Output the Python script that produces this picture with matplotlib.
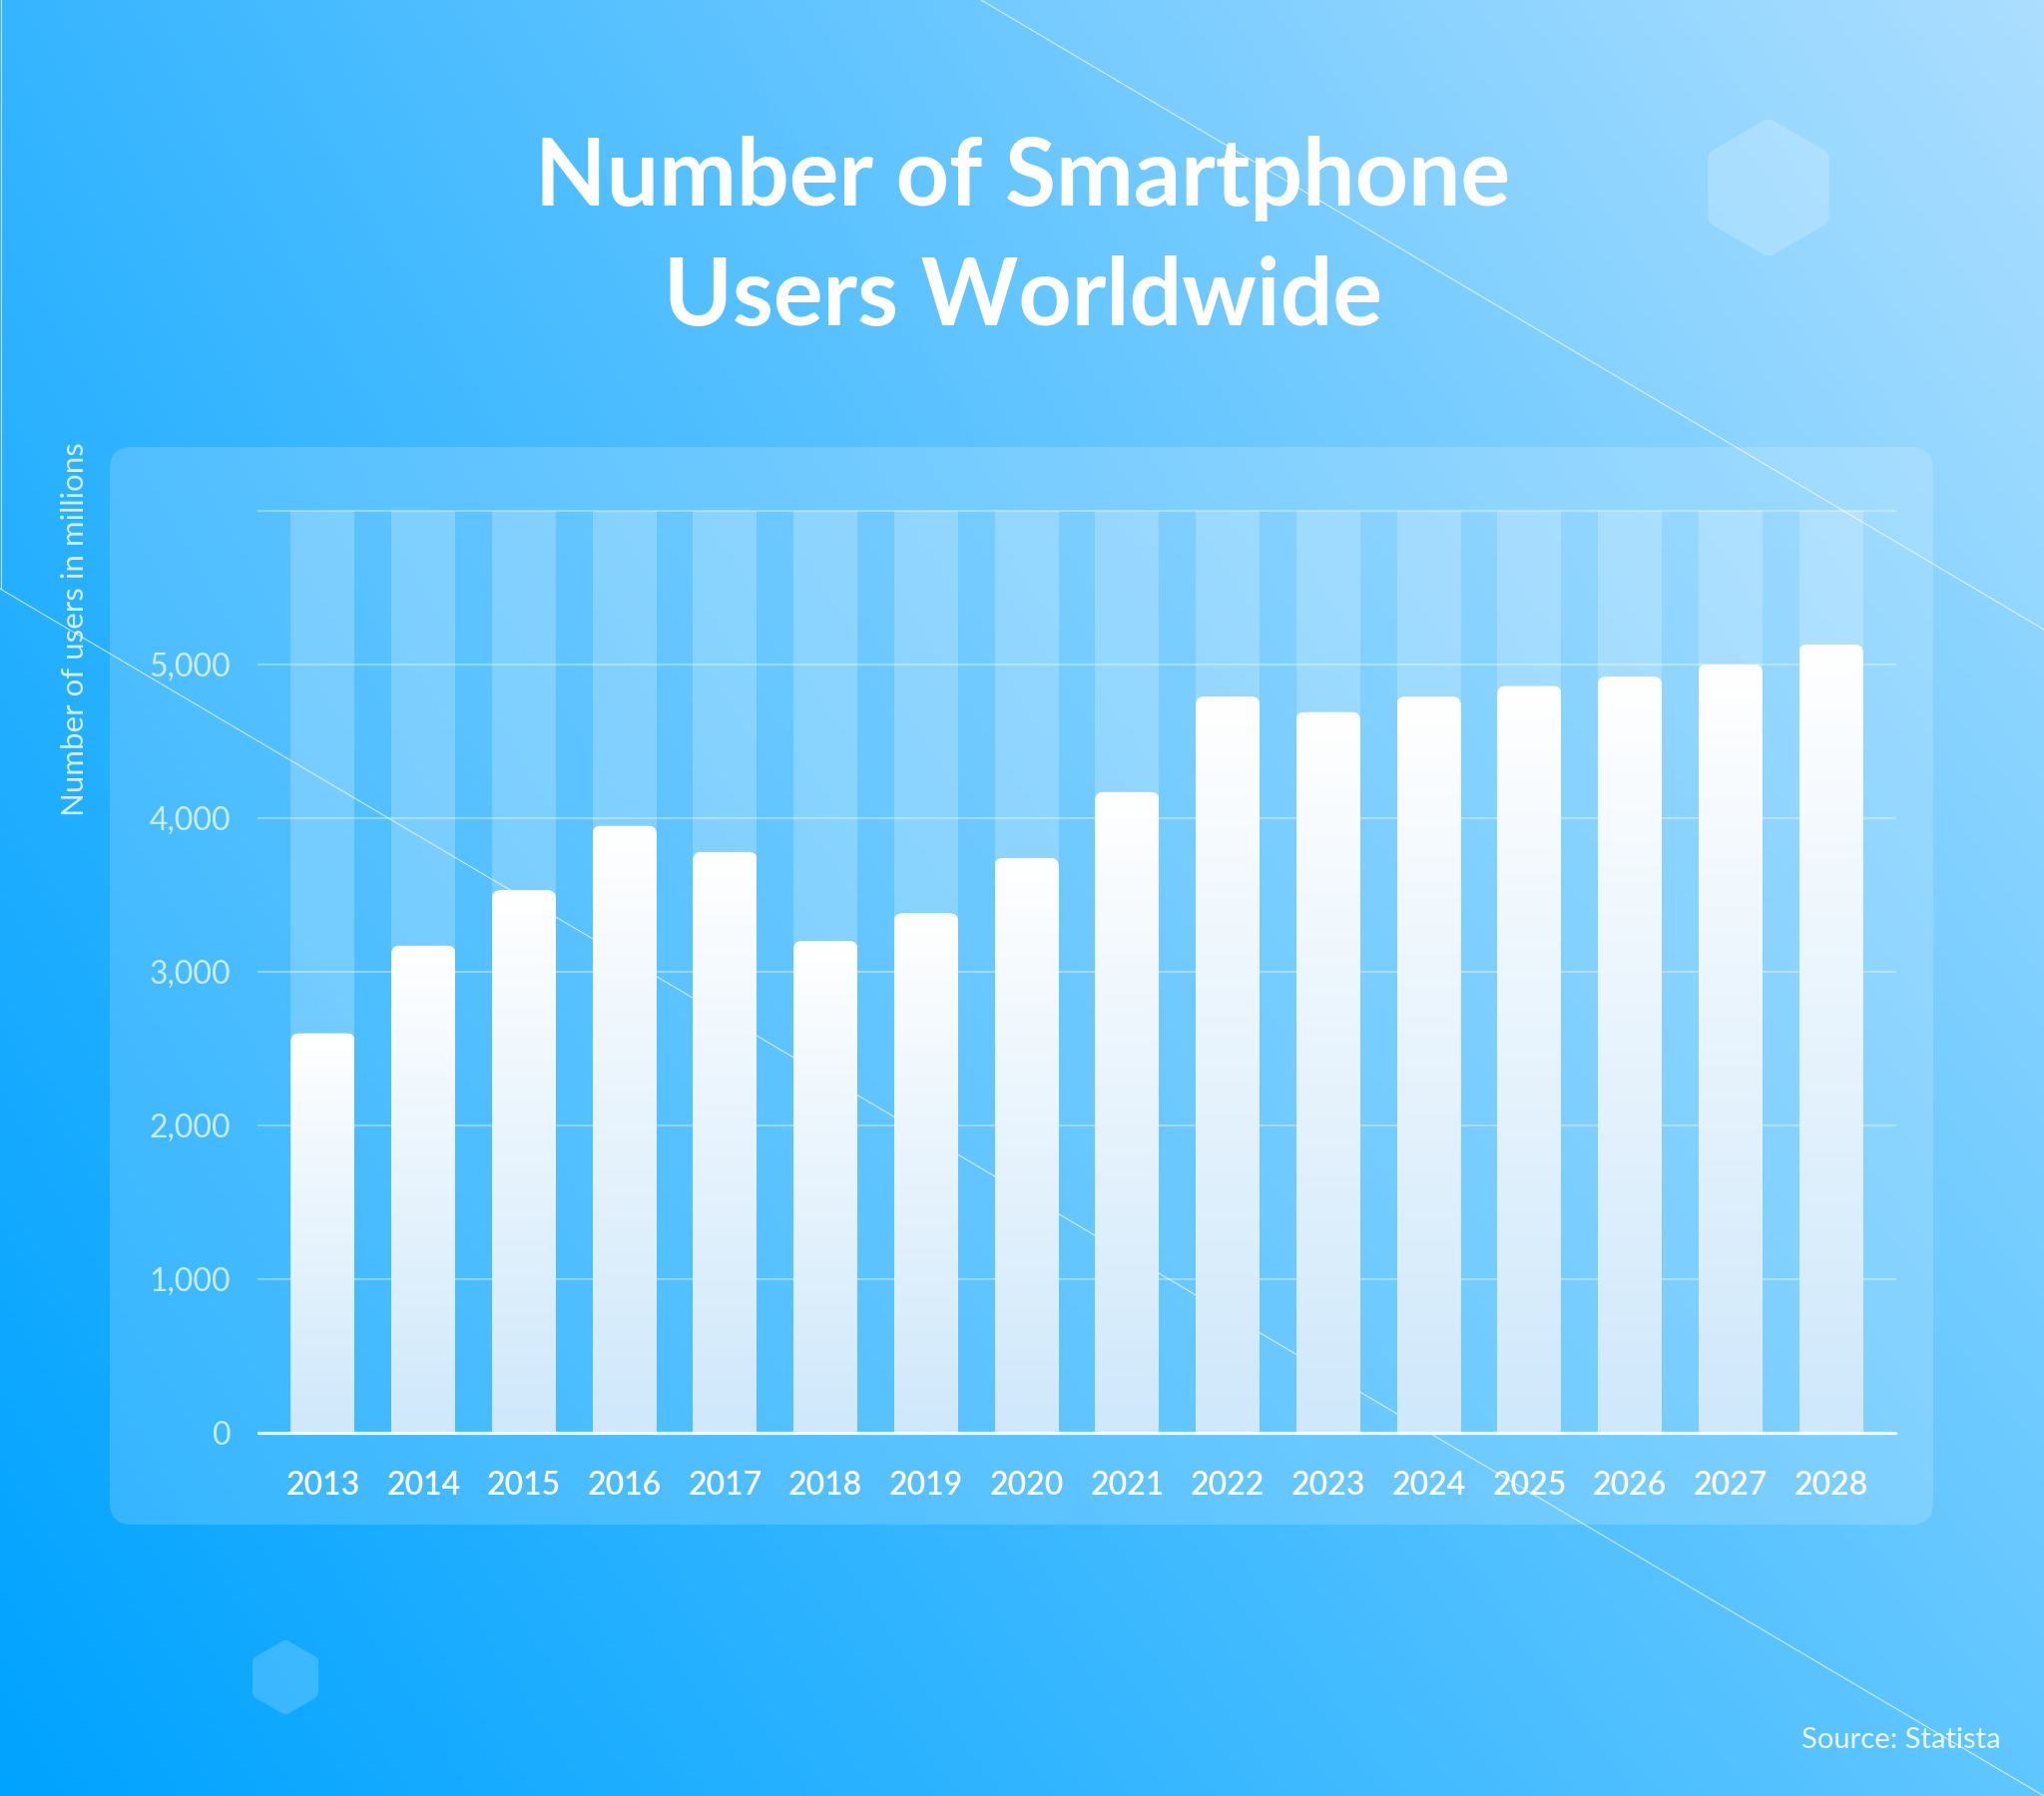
import numpy as np
import matplotlib.pyplot as plt
from matplotlib.patches import FancyBboxPatch, Polygon
from matplotlib.colors import to_rgb

# Veriler
years = ["2013", "2014", "2015", "2016", "2017", "2018", "2019", "2020",
         "2021", "2022", "2023", "2024", "2025", "2026", "2027", "2028"]
users = [2600, 3170, 3530, 3950, 3780, 3200, 3380, 3740,
         4170, 4790, 4690, 4790, 4860, 4920, 5000, 5130]
y_ticks = [0, 1000, 2000, 3000, 4000, 5000]
y_top = 6000

W, H = 2048, 1800
plt.rcParams['font.family'] = ['Lato', 'DejaVu Sans']
fig = plt.figure(figsize=(W / 100, H / 100), dpi=100)

# Arka plan: piksel koordinatlı tam sayfa eksen
bg = fig.add_axes([0, 0, 1, 1])
bg.set_xlim(0, W)
bg.set_ylim(H, 0)
bg.axis("off")

tl, tr = np.array(to_rgb("#36b5ff")), np.array(to_rgb("#a8ddff"))
bl, br = np.array(to_rgb("#00a3ff")), np.array(to_rgb("#60c6ff"))
U, V = np.meshgrid(np.linspace(0, 1, 256), np.linspace(0, 1, 256))
U, V = U[..., None], V[..., None]
ust = (1 - U) * tl + U * tr
alt = (1 - U) * bl + U * br
bg.imshow((1 - V) * ust + V * alt, extent=(0, W, H, 0), aspect="auto", zorder=0)

# ince çapraz çizgiler
bg.add_patch(Polygon([[983, 0], [W, 0], [W, 631]], closed=True, fc="white", alpha=0.05, ec="none", zorder=1))
bg.plot([983, W], [0, 631], color="white", lw=0.8, alpha=0.7, zorder=2)
bg.plot([0, W], [590, 1800], color="white", lw=0.8, alpha=0.7, zorder=2)
bg.plot([1, 1], [0, 590], color="white", lw=0.8, alpha=0.7, zorder=2)


# köşeleri yuvarlatılmış altıgen
def altigen(cx, cy, r, rc, alpha):
    d = rc / np.sin(np.radians(60))
    pts = []
    for k in range(6):
        th = np.radians(-90 + 60 * k)
        ox, oy = cx + (r - d) * np.cos(th), cy + (r - d) * np.sin(th)
        for a in np.linspace(th - np.radians(30), th + np.radians(30), 8):
            pts.append([ox + rc * np.cos(a), oy + rc * np.sin(a)])
    bg.add_patch(Polygon(pts, closed=True, fc="white", ec="none", alpha=alpha, zorder=2))


altigen(1772, 188, 70, 10, 0.2)
altigen(286, 1681, 38, 6, 0.18)

# grafik paneli
bg.add_patch(FancyBboxPatch((110, 448), 1827, 1080, boxstyle="round,pad=0,rounding_size=22",
                            fc="white", ec="none", alpha=0.17, zorder=3))

# Ana grafik
ax = fig.add_axes([259 / W, 1 - 1436 / H, 1640 / W, 924 / H])
ax.patch.set_visible(False)
x = np.arange(len(years))
bar_w = 0.635

ax.bar(x, [y_top] * len(x), width=bar_w, color="white", alpha=0.22, zorder=1)
for t in y_ticks[1:] + [y_top]:
    ax.axhline(t, color="white", alpha=0.35, lw=1.5, zorder=2, clip_on=False)

bars = ax.bar(x, users, width=bar_w, color="white", zorder=3)
ust_renk, alt_renk = np.array(to_rgb("#ffffff")), np.array(to_rgb("#cfe8fb"))
s = np.linspace(0, 1, 200)[:, None, None]
grad = (1 - s) * ust_renk + s * alt_renk

rx = 0.08
ry = 52
for b in bars:
    bx, bw, bh = b.get_x(), b.get_width(), b.get_height()
    clip = FancyBboxPatch((bx, -ry), bw, bh + ry, boxstyle=f"round,pad=0,rounding_size={rx}",
                          mutation_aspect=ry / rx, transform=ax.transData)
    b.set_clip_path(clip)
    im = ax.imshow(grad, extent=(bx, bx + bw, 0, bh), aspect="auto", zorder=4, interpolation="bilinear")
    im.set_clip_path(clip)

ax.axhline(0, color="white", lw=2.3, solid_capstyle="round", zorder=5, clip_on=False)

ax.set_xlim(-0.64, 15.64)
ax.set_ylim(0, y_top)
ax.set_xticks(x, years)
ax.set_yticks(y_ticks, [f"{t:,}" for t in y_ticks])
ax.tick_params(axis="y", length=0, pad=20, labelsize=23, labelcolor=(1, 1, 1, 0.72))
ax.tick_params(axis="x", length=0, pad=27, labelsize=23, labelcolor="white")
for lab in ax.get_xticklabels():
    lab.set_fontweight("semibold")
for sp in ax.spines.values():
    sp.set_visible(False)

# Metinler
fig.text(1025 / W, 1 - 206 / H, "Number of Smartphone", ha="center", va="baseline",
         fontsize=67, fontweight="bold", color="white")
fig.text(1025 / W, 1 - 326 / H, "Users Worldwide", ha="center", va="baseline",
         fontsize=67, fontweight="bold", color="white")
fig.text(75 / W, 1 - 631 / H, "Number of users in millions", rotation=90, ha="center", va="center",
         fontsize=22.5, fontweight="normal", color="white", alpha=0.8)
fig.text(2005 / W, 1 - 1752 / H, "Source: Statista", ha="right", va="baseline",
         fontsize=21, color="white", alpha=0.9)

fig.savefig("out.png", dpi=100)
